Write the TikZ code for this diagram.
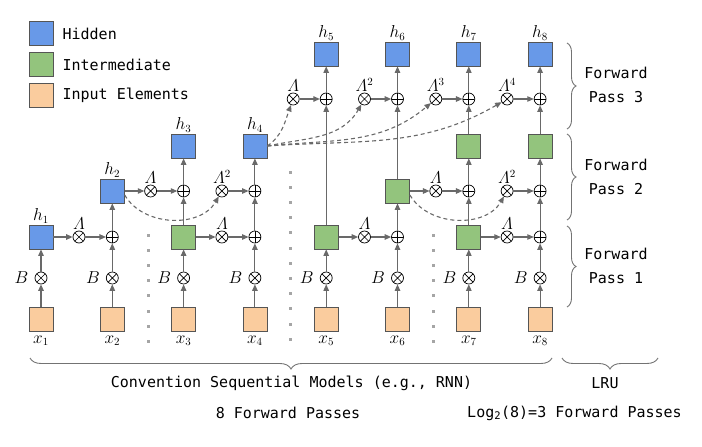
\documentclass[tikz,border=0pt]{standalone}
\usepackage{amsmath}
\usepackage{fontspec}
\setmonofont{DejaVu Sans Mono}
\usepackage{tikz}
\usetikzlibrary{positioning}
\usetikzlibrary{arrows.meta}
\usetikzlibrary{decorations.pathreplacing}

\definecolor{hidblue}{RGB}{104,153,232}
\definecolor{midgreen}{RGB}{147,196,125}
\definecolor{inorange}{RGB}{250,204,158}
\definecolor{boxline}{RGB}{85,85,85}
\definecolor{linegray}{RGB}{105,105,105}
\definecolor{dotgray}{RGB}{165,165,165}
\definecolor{bracegray}{RGB}{115,115,115}

\tikzset{
  hid/.style={draw=boxline, fill=hidblue, minimum size=24pt, inner sep=0pt, line width=0.8pt},
  mid/.style={hid, fill=midgreen},
  inp/.style={hid, fill=inorange},
  op/.style={circle, draw=black, fill=white, minimum size=12pt, inner sep=0pt, line width=0.7pt},
  mul/.style={op, path picture={\draw[line width=0.7pt] (path picture bounding box.south west) -- (path picture bounding box.north east) (path picture bounding box.north west) -- (path picture bounding box.south east);}},
  add/.style={op, path picture={\draw[line width=0.7pt] (path picture bounding box.north) -- (path picture bounding box.south) (path picture bounding box.west) -- (path picture bounding box.east);}},
  flow/.style={draw=linegray, line width=1.1pt, -{Triangle[length=6.5pt,width=5.5pt]}},
  carry/.style={flow, dashed, dash pattern=on 4pt off 3pt},
  lbl/.style={font=\fontsize{16}{18}\selectfont, inner sep=1pt},
  txt/.style={font=\ttfamily\fontsize{15}{24}\selectfont, inner sep=1pt},
  brc/.style={draw=bracegray, line width=0.9pt, decorate, decoration={brace, amplitude=9pt}},
}

\begin{document}
\begin{tikzpicture}[x=1pt, y=-1pt]
  \useasboundingbox (0,0) rectangle (702,447);

  \node (leghid) [hid] at (41,33.5) {};
  \node (legmid) [mid] at (41,64.5) {};
  \node (leginp) [inp] at (41,95) {};
  \node (leghidt) [txt, right=8pt of leghid] {Hidden};
  \node (legmidt) [txt, right=8pt of legmid] {Intermediate};
  \node (leginpt) [txt, right=8pt of leginp] {Input Elements};

  \foreach \i/\x in {1/41,2/112.3,3/183.6,4/254.9,5/326.2,6/397.5,7/468.8,8/540.1} {
    \node (in\i) [inp, label={[lbl, label distance=3pt]below:$x_{\i}$}] at (\x,319) {};
    \node (b\i) [mul, label={[lbl, label distance=5pt]left:$B$}] at (\x,278) {};
    \draw[flow] (in\i) -- (b\i);
  }

  \node (h1) [hid, label={[lbl]above:$h_1$}] at (41,237) {};
  \node (m12) [mul, label={[lbl]above:$\varLambda$}] at (79,237) {};
  \node (p2a) [add] at (112.3,237) {};
  \node (h2) [hid, label={[lbl]above:$h_2$}] at (112.3,191) {};
  \node (m23) [mul, label={[lbl]above:$\varLambda$}] at (150.6,191) {};
  \node (p3b) [add] at (183.6,191) {};
  \node (g3) [mid] at (183.6,237) {};
  \node (h3) [hid, label={[lbl]above:$h_3$}] at (183.6,146) {};
  \node (m34) [mul, label={[lbl]above:$\varLambda$}] at (221.9,237) {};
  \node (p4a) [add] at (254.9,237) {};
  \node (q4) [mul, label={[lbl]above:$\varLambda^2$}] at (221.9,191) {};
  \node (p4b) [add] at (254.9,191) {};
  \node (h4) [hid, label={[lbl]above:$h_4$}] at (254.9,146) {};

  \node (g5) [mid] at (326.2,237) {};
  \node (m56) [mul, label={[lbl]above:$\varLambda$}] at (364.5,237) {};
  \node (p6a) [add] at (397.5,237) {};
  \node (g6) [mid] at (397.5,191) {};
  \node (m67) [mul, label={[lbl]above:$\varLambda$}] at (435.8,191) {};
  \node (p7b) [add] at (468.8,191) {};
  \node (g7a) [mid] at (468.8,237) {};
  \node (g7b) [mid] at (468.8,146) {};
  \node (m78) [mul, label={[lbl]above:$\varLambda$}] at (507.1,237) {};
  \node (p8a) [add] at (540.1,237) {};
  \node (q8) [mul, label={[lbl]above:$\varLambda^2$}] at (507.1,191) {};
  \node (p8b) [add] at (540.1,191) {};
  \node (g8) [mid] at (540.1,146) {};

  \node (t5) [mul, label={[lbl]above:$\varLambda$}] at (293.2,99) {};
  \node (s5) [add] at (326.2,99) {};
  \node (h5) [hid, label={[lbl]above:$h_5$}] at (326.2,54) {};
  \node (t6) [mul, label={[lbl]above:$\varLambda^2$}] at (364.5,99) {};
  \node (s6) [add] at (397.5,99) {};
  \node (h6) [hid, label={[lbl]above:$h_6$}] at (397.5,54) {};
  \node (t7) [mul, label={[lbl]above:$\varLambda^3$}] at (435.8,99) {};
  \node (s7) [add] at (468.8,99) {};
  \node (h7) [hid, label={[lbl]above:$h_7$}] at (468.8,54) {};
  \node (t8) [mul, label={[lbl]above:$\varLambda^4$}] at (507.1,99) {};
  \node (s8) [add] at (540.1,99) {};
  \node (h8) [hid, label={[lbl]above:$h_8$}] at (540.1,54) {};

  \draw[flow] (b1) -- (h1);
  \draw[flow] (b2) -- (p2a);
  \draw[flow] (b3) -- (g3);
  \draw[flow] (b4) -- (p4a);
  \draw[flow] (b5) -- (g5);
  \draw[flow] (b6) -- (p6a);
  \draw[flow] (b7) -- (g7a);
  \draw[flow] (b8) -- (p8a);

  \draw[flow] (h1) -- (m12);
  \draw[flow] (m12) -- (p2a);
  \draw[flow] (p2a) -- (h2);
  \draw[flow] (h2) -- (m23);
  \draw[flow] (m23) -- (p3b);
  \draw[flow] (g3) -- (p3b);
  \draw[flow] (p3b) -- (h3);
  \draw[flow] (g3) -- (m34);
  \draw[flow] (m34) -- (p4a);
  \draw[flow] (p4a) -- (p4b);
  \draw[flow] (q4) -- (p4b);
  \draw[flow] (p4b) -- (h4);
  \draw[carry] ([yshift=-4pt]h2.east) to[out=-60, in=-120] (q4);

  \draw[flow] (g5) -- (m56);
  \draw[flow] (m56) -- (p6a);
  \draw[flow] (p6a) -- (g6);
  \draw[flow] (g6) -- (m67);
  \draw[flow] (m67) -- (p7b);
  \draw[flow] (g7a) -- (p7b);
  \draw[flow] (p7b) -- (g7b);
  \draw[flow] (g7a) -- (m78);
  \draw[flow] (m78) -- (p8a);
  \draw[flow] (p8a) -- (p8b);
  \draw[flow] (q8) -- (p8b);
  \draw[flow] (p8b) -- (g8);
  \draw[carry] ([yshift=-4pt]g6.east) to[out=-60, in=-120] (q8);

  \draw[flow] (g5) -- (s5);
  \draw[flow] (g6) -- (s6);
  \draw[flow] (g7b) -- (s7);
  \draw[flow] (g8) -- (s8);
  \foreach \i in {5,...,8} {
    \draw[flow] (t\i) -- (s\i);
    \draw[flow] (s\i) -- (h\i);
  }
  \draw[carry] (h4.east) to[out=35, in=-110] (t5);
  \draw[carry] (h4.east) to[out=12, in=-120] (t6);
  \draw[carry] (h4.east) to[out=6, in=-140] (t7);
  \draw[carry] (h4.east) to[out=4, in=-150] (t8);

  \foreach \k in {0,...,7} {
    \fill[dotgray] (148.3,235+15.2*\k) +(-1.5,-1.5) rectangle +(1.5,1.5);
    \fill[dotgray] (433,235+15.2*\k) +(-1.5,-1.5) rectangle +(1.5,1.5);
  }
  \foreach \k in {0,...,11}
    \fill[dotgray] (290.7,172+15.2*\k) +(-1.5,-1.5) rectangle +(1.5,1.5);

  \draw[brc] (567,43) -- (567,129);
  \draw[brc] (567,134) -- (567,220);
  \draw[brc] (567,226) -- (567,307);
  \node (pass3) [txt, align=center] at (616,85) {Forward\\Pass 3};
  \node (pass2) [txt, align=center] at (616,176.5) {Forward\\Pass 2};
  \node (pass1) [txt, align=center] at (616,266) {Forward\\Pass 1};

  \draw[brc, decoration={amplitude=11pt}] (552,358) -- (30,358);
  \draw[brc, decoration={amplitude=11pt}] (658,358) -- (562,358);
  \node (rnntxt) [txt] at (291.5,383) {Convention Sequential Models (e.g., RNN)};
  \node (lrutxt) [txt] at (605,383) {LRU};
  \node (rnnpass) [txt] at (288,413) {8 Forward Passes};
  \node (lrupass) [txt] at (574.5,413) {Log\textsubscript{2}(8)=3 Forward Passes};
\end{tikzpicture}
\end{document}
